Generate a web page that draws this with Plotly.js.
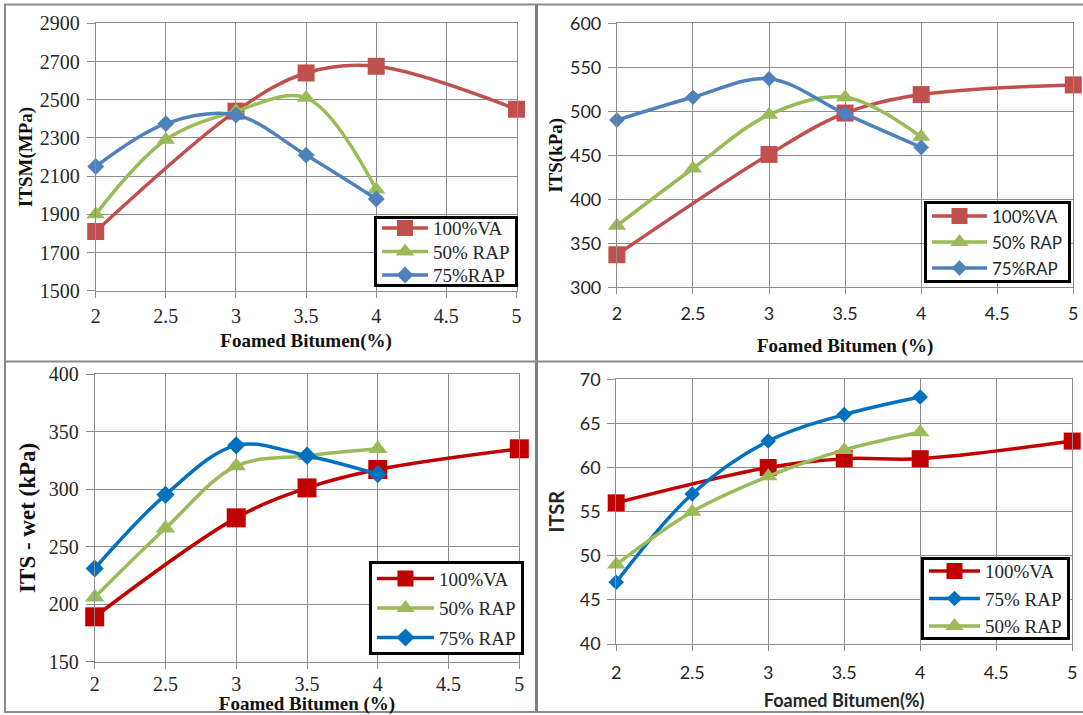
<!DOCTYPE html>
<html>
<head>
<meta charset="utf-8">
<script src="https://cdn.plot.ly/plotly-3.0.1.min.js"></script>
<style>
  html, body { margin: 0; padding: 0; background: #fff; }
  #chart { width: 1083px; height: 715px; }
</style>
</head>
<body>
<div id="chart"></div>
<script>
// foamed bitumen content (%)
const vaX = [2, 3, 3.5, 4, 5];
const rapX = [2, 2.5, 3, 3.5, 4];

// ITSM (MPa)
const itsmVA = [1810, 2440, 2640, 2675, 2450];
const itsmRAP50 = [1900, 2290, 2440, 2510, 2030];
const itsmRAP75 = [2150, 2375, 2420, 2210, 1980];

// ITS dry (kPa)
const itsVA = [337, 451, 498, 519, 530];
const itsRAP50 = [370, 435, 496, 516, 471];
const itsRAP75 = [490, 516, 537, 497, 459];

// ITS wet (kPa)
const wetVA = [189, 275, 301, 317, 335];
const wetRAP50 = [206, 266, 320, 329, 335];
const wetRAP75 = [231, 295, 338, 329, 313];

// ITSR
const itsrVA = [56, 60, 61, 61, 63];
const itsrRAP75 = [47, 57, 63, 66, 68];
const itsrRAP50 = [49, 55, 59, 62, 64];

const W = 1083, H = 715;
// pixel -> paper helpers
const px = v => v / W;
const py = v => 1 - v / H;

const SERIF = 'Liberation Serif, Times New Roman, serif';
const SANS = 'Lato, Carlito, Calibri, sans-serif';
const GRID = '#8c8c8c';

// excel 2007 palette (top charts) and the brighter one (bottom charts)
const red1 = '#C0504D', green1 = '#9BBB59', blue1 = '#4F81BD';
const red2 = '#C00000', green2 = '#9BBB59', blue2 = '#0070C0';

function line(name, x, y, color, symbol, size, xa, ya, legend) {
  return {
    x: x, y: y, name: name,
    type: 'scatter', mode: 'lines+markers',
    line: {color: color, width: 3.5, shape: 'spline', smoothing: 1},
    marker: {color: color, symbol: symbol, size: size},
    xaxis: xa, yaxis: ya, legend: legend,
    cliponaxis: false
  };
}

const data = [
  // top left
  line('100%VA', vaX, itsmVA, red1, 'square', 17, 'x', 'y', 'legend'),
  line('50% RAP', rapX, itsmRAP50, green1, 'triangle-up', 16, 'x', 'y', 'legend'),
  line('75%RAP', rapX, itsmRAP75, blue1, 'diamond', 13, 'x', 'y', 'legend'),
  // top right
  line('100%VA', vaX, itsVA, red1, 'square', 17, 'x2', 'y2', 'legend2'),
  line('50% RAP', rapX, itsRAP50, green1, 'triangle-up', 16, 'x2', 'y2', 'legend2'),
  line('75%RAP', rapX, itsRAP75, blue1, 'diamond', 12, 'x2', 'y2', 'legend2'),
  // bottom left
  line('100%VA', vaX, wetVA, red2, 'square', 19, 'x3', 'y3', 'legend3'),
  line('50% RAP', rapX, wetRAP50, green2, 'triangle-up', 17, 'x3', 'y3', 'legend3'),
  line('75% RAP', rapX, wetRAP75, blue2, 'diamond', 14, 'x3', 'y3', 'legend3'),
  // bottom right
  line('100%VA', vaX, itsrVA, red2, 'square', 17, 'x4', 'y4', 'legend4'),
  line('75% RAP', rapX, itsrRAP75, blue2, 'diamond', 12, 'x4', 'y4', 'legend4'),
  line('50% RAP', rapX, itsrRAP50, green2, 'triangle-up', 16, 'x4', 'y4', 'legend4'),
];

function xAxis(l, r, anchor, title, tickFamily, tickSize, labelGap, titleFont, standoff) {
  return {
    domain: [px(l), px(r)], anchor: anchor,
    range: [2, 5], tick0: 2, dtick: 0.5,
    showgrid: true, gridcolor: GRID, gridwidth: 1,
    showline: true, linecolor: GRID, mirror: true,
    ticks: 'outside', ticklen: 6, tickcolor: GRID,
    ticklabelstandoff: labelGap,
    zeroline: false,
    tickfont: {family: tickFamily, size: tickSize, color: '#262626'},
    title: {text: title, font: titleFont, standoff: standoff}
  };
}

function yAxis(top, bottom, anchor, range, dtick, title, tickFamily, tickSize, titleFont, standoff) {
  return {
    domain: [py(bottom), py(top)], anchor: anchor,
    range: range, dtick: dtick, tick0: range[0],
    showgrid: true, gridcolor: GRID, gridwidth: 1,
    showline: true, linecolor: GRID, mirror: true,
    ticks: 'outside', ticklen: 8, tickcolor: GRID,
    ticklabelstandoff: 3,
    zeroline: false,
    tickfont: {family: tickFamily, size: tickSize, color: '#262626'},
    title: {text: title, font: titleFont, standoff: standoff}
  };
}

function legendAt(right, bottom, family, size, symbolWidth) {
  return {
    x: px(right), y: py(bottom), xanchor: 'right', yanchor: 'bottom',
    bgcolor: '#ffffff', bordercolor: '#000000', borderwidth: 3,
    font: {family: family, size: size, color: '#262626'},
    itemwidth: symbolWidth,
    tracegroupgap: 0
  };
}

const serifBold19 = {family: SERIF, size: 19, color: '#111', weight: 'bold'};

const layout = {
  width: W, height: H,
  margin: {l: 0, r: 0, t: 0, b: 0},
  paper_bgcolor: '#ffffff',
  plot_bgcolor: '#ffffff',
  showlegend: true,

  xaxis: xAxis(95.7, 516.5, 'y', 'Foamed Bitumen(%)', SERIF, 20, 1, serifBold19, 7),
  yaxis: yAxis(23.3, 290.7, 'x', [1500, 2900], 200, 'ITSM(MPa)', SERIF, 20, serifBold19, 2),

  xaxis2: xAxis(616.9, 1073.3, 'y2', 'Foamed Bitumen (%)', SANS, 18, 4, serifBold19, 15),
  yaxis2: yAxis(23.3, 287.3, 'x2', [300, 600], 50, 'ITS(kPa)', SANS, 18, serifBold19, 2),

  xaxis3: xAxis(94.7, 519.3, 'y3', 'Foamed Bitumen (%)', SERIF, 20, -2, serifBold19, 9),
  yaxis3: yAxis(374, 661.7, 'x3', [150, 400], 50, 'ITS - wet (kPa)', SERIF, 20,
                {family: SERIF, size: 23, color: '#111', weight: 'bold'}, 6),

  xaxis4: xAxis(616.2, 1072.2, 'y4', 'Foamed Bitumen(%)', SANS, 18, 6,
                {family: SANS, size: 18, color: '#262626', weight: 'bold'}, 12),
  yaxis4: yAxis(379.3, 644, 'x4', [40, 70], 5, 'ITSR', SANS, 18,
                {family: SANS, size: 20, color: '#262626', weight: 'bold'}, 9),

  legend: legendAt(518, 287, SERIF, 19, 46),
  legend2: legendAt(1071, 283, SANS, 17, 55),
  legend3: legendAt(524, 655, SERIF, 19, 57),
  legend4: legendAt(1070, 640, SERIF, 19, 51),

  // outer frame and the dividers between the four charts
  shapes: [
    {type: 'rect', xref: 'paper', yref: 'paper', x0: px(5), x1: px(1095), y0: py(712), y1: py(4.5),
     line: {color: '#8a8a8a', width: 2}},
    {type: 'line', xref: 'paper', yref: 'paper', x0: px(536.5), x1: px(536.5), y0: py(712), y1: py(4.5),
     line: {color: '#7f7f7f', width: 3}},
    {type: 'line', xref: 'paper', yref: 'paper', x0: px(5), x1: 1, y0: py(361.5), y1: py(361.5),
     line: {color: '#8a8a8a', width: 2}}
  ]
};

// excel legend boxes: bottom edge (px), edge-to-first-row gap, row step
const legendRows = {
  legend:  {bottom: 287, pad: 12, step: 23.5},
  legend2: {bottom: 283, pad: 15, step: 26},
  legend3: {bottom: 655, pad: 17.5, step: 29.5},
  legend4: {bottom: 640, pad: 14, step: 27.5}
};

function readTranslate(el) {
  const m = /translate\(\s*([-\d.e]+)(?:px)?[\s,]+([-\d.e]+)(?:px)?\s*\)/.exec(el.getAttribute('transform') || '');
  return m ? {x: +m[1], y: +m[2]} : null;
}

// plotly ties the row height to the font size, so set the rows and box height directly.
// absolute values, so it can run again after any redraw.
function placeLegend(gd, id, opt) {
  const g = gd.querySelector('g.' + id);
  if (!g) return;
  const items = Array.from(g.querySelectorAll('g.traces'));
  const gpos = readTranslate(g);
  if (!items.length || !gpos) return;
  const bw = 3;
  const h = 2 * opt.pad + (items.length - 1) * opt.step;
  items.forEach((it, i) => {
    const t = readTranslate(it);
    if (t) it.setAttribute('transform', 'translate(' + t.x + ',' + (opt.pad + i * opt.step) + ')');
  });
  const bg = g.querySelector('rect.bg');
  if (bg) { bg.setAttribute('y', bw / 2); bg.setAttribute('height', h - bw); }
  g.setAttribute('transform', 'translate(' + gpos.x + ',' + (opt.bottom - h) + ')');
}

function tidyLegends(gd) {
  for (const id in legendRows) placeLegend(gd, id, legendRows[id]);
}

const gd = document.getElementById('chart');
Plotly.newPlot(gd, data, layout, {displayModeBar: false, staticPlot: true}).then(() => {
  tidyLegends(gd);
  gd.on('plotly_afterplot', () => tidyLegends(gd));
  requestAnimationFrame(() => tidyLegends(gd));
  [50, 200, 600, 1500].forEach(ms => setTimeout(() => tidyLegends(gd), ms));
});
</script>
</body>
</html>
